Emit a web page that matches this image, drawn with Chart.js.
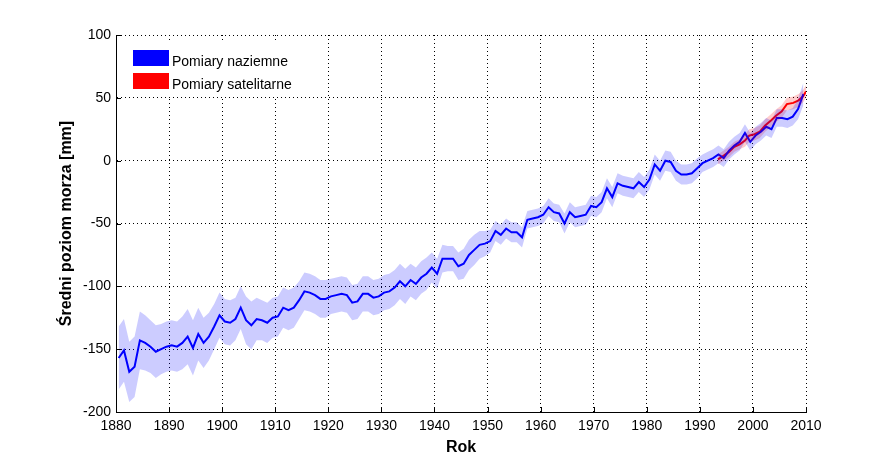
<!DOCTYPE html>
<html>
<head>
<meta charset="utf-8">
<script src="https://cdn.jsdelivr.net/npm/chart.js@4.4.1/dist/chart.umd.min.js"></script>
<style>
  html, body { margin: 0; padding: 0; background: #fff; }
  #wrap { width: 889px; height: 463px; }
</style>
</head>
<body>
<div id="wrap"><canvas id="chart" width="889" height="463"></canvas></div>
<script>
// tide gauge reconstruction, one value per year starting 1880
const FIRST_YEAR = 1880;
const gaugeLevel = [
  -157, -151, -168, -164, -143, -145, -148, -152, -150, -148,
  -147, -148, -145, -140, -149, -138, -145, -140, -132, -123,
  -128, -129, -126, -117, -127, -131, -126, -127, -129, -125,
  -124, -117, -119, -117, -111, -104, -105, -107, -110, -110,
  -108, -107, -106, -107, -113, -112, -106, -106, -109, -108,
  -105, -104, -101, -96, -100, -95, -98, -93, -90, -85,
  -90, -78, -78, -78, -84, -82, -75, -71, -67, -66,
  -64, -56, -59, -54, -57, -57, -61, -47, -46, -45,
  -43, -37, -41, -42, -50, -41, -45, -44, -43, -36,
  -37, -33, -22, -29, -18, -20, -21, -22, -17, -21,
  -15, -3, -8, 0, -1, -8, -11, -11, -10, -6,
  -2, 0, 2, 5, 2, 8, 12, 15, 22, 15,
  20, 23, 27, 25, 34, 34, 33, 35, 41, 53
];
const gaugeError = [
  25, 25, 24, 24, 23, 22, 21, 21, 20, 20,
  20, 20, 21, 22, 22, 21, 20, 19, 18, 18,
  18, 18, 17, 17, 19, 19, 17, 16, 16, 16,
  16, 16, 16, 16, 15, 15, 15, 15, 15, 15,
  14, 14, 14, 14, 14, 14, 14, 14, 14, 14,
  14, 14, 14, 14, 14, 13, 13, 13, 13, 12,
  12, 11, 10, 10, 11, 12, 12, 12, 11, 10,
  9, 8, 8, 8, 8, 8, 8, 7, 7, 7,
  7, 7, 7, 7, 8, 8, 8, 8, 8, 8,
  8, 8, 8, 8, 8, 8, 8, 8, 8, 8,
  8, 8, 8, 8, 8, 8, 8, 8, 8, 8,
  7, 7, 7, 7, 7, 7, 7, 7, 7, 7,
  7, 7, 7, 7, 7, 7, 7, 7, 8, 9
];

// satellite altimetry
const satYears = [1993.4, 1994.5, 1995.5, 1996.5, 1997.5, 1998.5, 1999.3, 2000.3, 2001.3,
                  2002.3, 2003.4, 2004.4, 2005.4, 2006.4, 2007.6, 2008.6, 2009.4, 2010];
const satLevel = [1, 4, 7, 11, 13, 16, 20, 21, 23, 28, 32, 36, 39, 45, 46, 48, 51, 55];
const satError = [4, 4, 4, 4, 4, 5, 5, 5, 5, 5, 5, 5, 5, 5, 5, 5, 5, 5];

const xTicks = [1880, 1890, 1900, 1910, 1920, 1930, 1940, 1950, 1960, 1970, 1980, 1990, 2000, 2010];
const yTicks = [-200, -150, -100, -50, 0, 50, 100];

const legendLabels = ['Pomiary naziemne', 'Pomiary satelitarne'];
const xTitle = 'Rok';
const yTitle = 'Średni poziom morza [mm]';

const FONT = "'Liberation Sans', Arial, Helvetica, sans-serif";

const gaugePts = gaugeLevel.map((v, i) => ({ x: FIRST_YEAR + i + 0.5, y: v }));
const gaugeHi = gaugeLevel.map((v, i) => ({ x: FIRST_YEAR + i + 0.5, y: v + gaugeError[i] }));
const gaugeLo = gaugeLevel.map((v, i) => ({ x: FIRST_YEAR + i + 0.5, y: v - gaugeError[i] }));
const satPts = satLevel.map((v, i) => ({ x: satYears[i], y: v }));
const satHi = satLevel.map((v, i) => ({ x: satYears[i], y: v + satError[i] }));
const satLo = satLevel.map((v, i) => ({ x: satYears[i], y: v - satError[i] }));

const bandStyle = { borderWidth: 0, pointRadius: 0, tension: 0 };

// inward ticks, axis titles and the MATLAB style legend
const decorations = {
  id: 'decorations',
  afterDraw(chart) {
    const { ctx, chartArea: a, scales } = chart;
    ctx.save();
    ctx.strokeStyle = '#000';
    ctx.lineWidth = 1;
    ctx.beginPath();
    xTicks.forEach(t => {
      const px = Math.round(scales.x.getPixelForValue(t)) + 0.5;
      ctx.moveTo(px, a.bottom);
      ctx.lineTo(px, a.bottom - 5);
    });
    yTicks.forEach(t => {
      const py = Math.round(scales.y.getPixelForValue(t)) + 0.5;
      ctx.moveTo(a.left, py);
      ctx.lineTo(a.left + 5, py);
    });
    ctx.stroke();

    // legend
    ctx.fillStyle = '#fff';
    ctx.fillRect(a.left + 1, a.top + 8, 185, 53);
    ctx.fillStyle = '#0000ff';
    ctx.fillRect(a.left + 17, a.top + 15, 36, 16);
    ctx.fillStyle = '#ff0000';
    ctx.fillRect(a.left + 17, a.top + 38, 36, 16);
    ctx.fillStyle = '#000';
    ctx.font = '14px ' + FONT;
    ctx.textAlign = 'left';
    ctx.textBaseline = 'alphabetic';
    ctx.fillText(legendLabels[0], a.left + 56, a.top + 31);
    ctx.fillText(legendLabels[1], a.left + 56, a.top + 54);

    // axis titles
    ctx.font = 'bold 16px ' + FONT;
    ctx.textAlign = 'center';
    ctx.textBaseline = 'middle';
    ctx.fillText(xTitle, (a.left + a.right) / 2, 448);
    ctx.translate(67, (a.top + a.bottom) / 2);
    ctx.rotate(-Math.PI / 2);
    ctx.fillText(yTitle, 0, 0);
    ctx.restore();
  }
};

new Chart(document.getElementById('chart'), {
  type: 'line',
  data: {
    datasets: [
      { data: gaugeHi, ...bandStyle, fill: false },
      { data: gaugeLo, ...bandStyle, fill: '-1', backgroundColor: 'rgba(0,0,255,0.2)' },
      { data: satHi, ...bandStyle, fill: false },
      { data: satLo, ...bandStyle, fill: '-1', backgroundColor: 'rgba(255,0,0,0.2)' },
      { data: gaugePts, borderColor: '#0000ff', borderWidth: 2, pointRadius: 0, fill: false, tension: 0 },
      { data: satPts, borderColor: '#ff0000', borderWidth: 2, pointRadius: 0, fill: false, tension: 0 }
    ]
  },
  options: {
    responsive: false,
    animation: false,
    devicePixelRatio: 1,
    layout: { padding: { top: 35, right: 83, left: 0, bottom: 0 } },
    plugins: { legend: { display: false }, tooltip: { enabled: false } },
    scales: {
      x: {
        type: 'linear',
        min: 1880,
        max: 2010,
        afterBuildTicks: s => { s.ticks = xTicks.map(v => ({ value: v })); },
        afterFit: s => { s.height = 51; },
        ticks: { color: '#000', font: { family: FONT, size: 14 }, padding: 6, maxRotation: 0,
                 callback: v => String(v) },
        grid: { color: '#000', lineWidth: 1, drawTicks: false, tickLength: 0 },
        border: { color: '#000', width: 1, dash: [1, 3] }
      },
      y: {
        type: 'linear',
        min: -200,
        max: 100,
        afterBuildTicks: s => { s.ticks = yTicks.map(v => ({ value: v })); },
        afterFit: s => { s.width = 116; },
        ticks: { color: '#000', font: { family: FONT, size: 14 }, padding: 5,
                 callback: v => String(v) },
        grid: { color: '#000', lineWidth: 1, drawTicks: false, tickLength: 0 },
        border: { color: '#000', width: 1, dash: [1, 3] }
      }
    }
  },
  plugins: [decorations]
});
</script>
</body>
</html>
